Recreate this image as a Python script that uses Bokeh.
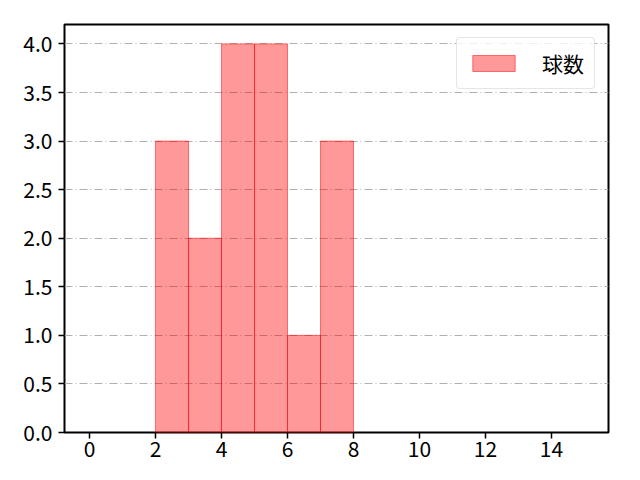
from bokeh.plotting import figure
from bokeh.models import Range1d, FixedTicker, CustomJSTickFormatter
from bokeh.embed import file_html
from bokeh.resources import INLINE

# histogram of pitch counts
bin_left = [2, 3, 4, 5, 6, 7]
bin_right = [3, 4, 5, 6, 7, 8]
counts = [3, 2, 4, 4, 1, 3]
x_ticks = [0, 2, 4, 6, 8, 10, 12, 14]
y_ticks = [0.0, 0.5, 1.0, 1.5, 2.0, 2.5, 3.0, 3.5, 4.0]

FONT = "Noto Sans CJK JP"

p = figure(width=624, height=464, output_backend="svg", toolbar_location=None,
           x_range=Range1d(-0.76, 15.73), y_range=Range1d(0, 4.2),
           min_border_left=64, min_border_right=16, min_border_top=24, min_border_bottom=32)

p.quad(left=bin_left, right=bin_right, bottom=0, top=counts,
       fill_color="red", fill_alpha=0.4, line_color="red", line_alpha=0.5, line_width=1,
       legend_label="球数")

p.xaxis.ticker = FixedTicker(ticks=x_ticks)
p.yaxis.ticker = FixedTicker(ticks=y_ticks)
p.yaxis.formatter = CustomJSTickFormatter(code="return tick.toFixed(1);")

for ax in (p.xaxis, p.yaxis):
    ax.major_label_text_font = FONT
    ax.major_label_text_font_size = "21px"
    ax.major_label_text_color = "black"
    ax.axis_line_color = None
    ax.major_tick_line_color = "black"
    ax.major_tick_line_width = 1.5
    ax.major_tick_out = 6
    ax.major_tick_in = 0
    ax.minor_tick_line_color = None
p.xaxis.major_label_standoff = 2
p.yaxis.major_label_standoff = 6

p.outline_line_color = "black"
p.outline_line_width = 2
p.outline_line_alpha = 1.0

p.xgrid.grid_line_color = None
p.ygrid.grid_line_color = "#b0b0b0"
p.ygrid.grid_line_dash = "8 3 1 3"
p.ygrid.grid_line_width = 1

p.legend.location = "top_right"
p.legend.label_text_font = FONT
p.legend.label_text_font_size = "21px"
p.legend.label_text_color = "black"
p.legend.glyph_width = 53
p.legend.glyph_height = 20
p.legend.border_line_color = "#cccccc"
p.legend.border_radius = 4
p.legend.margin = 13
p.legend.padding = 10
p.legend.label_standoff = 22
p.legend.background_fill_alpha = 0.8

open("out.html", "w").write(file_html(p, INLINE))
